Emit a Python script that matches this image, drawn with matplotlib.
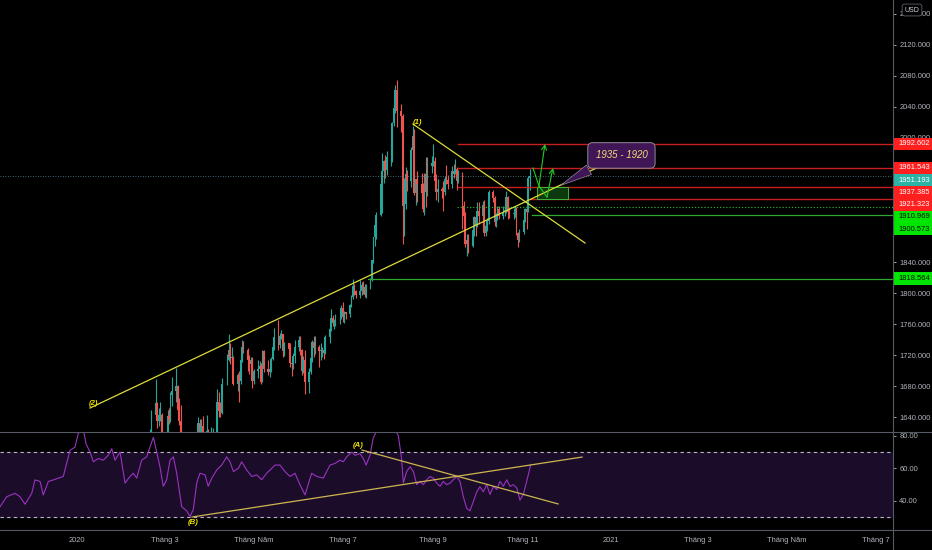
import numpy as np
import pandas as pd
import matplotlib
matplotlib.use("Agg")
import matplotlib.pyplot as plt
from matplotlib.patches import Rectangle
from matplotlib.lines import Line2D
import matplotlib.transforms as mtrans

plt.rcParams['font.family'] = ['Liberation Sans', 'DejaVu Sans']

# ---------------- data ----------------
BASE = pd.Timestamp("2020-01-01")
first_open = 1584.0
closes = [
    1581, 1601, 1611, 1619, 1643, 1658, 1635, 1643, 1643, 1585,
    1594, 1641, 1637, 1669, 1674, 1680, 1649, 1635, 1576, 1530, 1514, 1526, 1477, 1471, 1498, 1554, 1632, 1611, 1628, 1617, 1622, 1577,
    1591, 1613, 1620, 1660, 1648, 1645, 1683, 1713, 1727, 1716, 1716, 1683, 1694, 1686, 1714, 1730, 1726, 1713, 1708, 1714, 1686,
    1700, 1702, 1706, 1685, 1725, 1702, 1698, 1702, 1715, 1730, 1743, 1733, 1745, 1747, 1725, 1735, 1728, 1710, 1708, 1719, 1730,
    1739, 1727, 1699, 1714, 1685, 1698, 1716, 1737, 1729, 1730, 1725, 1726, 1727, 1722, 1743, 1754, 1768, 1761, 1764, 1771, 1772, 1781,
    1769, 1775, 1773, 1784, 1795, 1809, 1803, 1798, 1802, 1810, 1808, 1797, 1810, 1817, 1842, 1872, 1888, 1901, 1941, 1958, 1970, 1959, 1975,
    1976, 2019, 2039, 2062, 2035, 2028, 1912, 1915, 1954, 1944, 1985, 2002, 1929, 1947, 1940, 1929, 1908, 1953, 1930, 1964, 1968,
    1970, 1944, 1930, 1934, 1932, 1930, 1947, 1946, 1940, 1957, 1954, 1960, 1944, 1950, 1912, 1900, 1863, 1868, 1861, 1881, 1898, 1886,
    1906, 1899, 1913, 1877, 1887, 1893, 1930, 1922, 1891, 1902, 1908, 1899, 1904, 1907, 1924, 1904, 1902, 1902, 1908, 1877, 1868, 1879,
    1894, 1909, 1904, 1948, 1951,
]
highs = [
    1586, 1603, 1612, 1624, 1649, 1689, 1660, 1651, 1660, 1645,
    1611, 1649, 1652, 1672, 1692, 1703, 1681, 1664, 1655, 1594, 1575, 1547, 1548, 1501, 1520, 1566, 1640, 1637, 1637, 1641, 1643, 1625,
    1592, 1627, 1626, 1676, 1672, 1660, 1690, 1721, 1747, 1735, 1730, 1719, 1697, 1699, 1717, 1739, 1738, 1729, 1720, 1718, 1718,
    1702, 1714, 1712, 1710, 1727, 1727, 1714, 1707, 1717, 1736, 1755, 1765, 1748, 1752, 1747, 1737, 1735, 1735, 1713, 1723, 1740,
    1745, 1745, 1728, 1719, 1727, 1703, 1718, 1739, 1745, 1744, 1733, 1736, 1730, 1736, 1746, 1758, 1779, 1772, 1767, 1773, 1775, 1785,
    1789, 1777, 1776, 1786, 1797, 1818, 1812, 1804, 1817, 1814, 1815, 1812, 1812, 1820, 1843, 1872, 1895, 1905, 1944, 1981, 1972, 1978, 1983,
    1993, 2020, 2055, 2069, 2075, 2044, 2031, 1949, 1962, 1959, 1989, 2015, 2012, 1947, 1957, 1955, 1942, 1955, 1975, 1976, 1977,
    1992, 1975, 1953, 1947, 1937, 1944, 1951, 1965, 1952, 1964, 1966, 1973, 1962, 1959, 1956, 1919, 1904, 1876, 1876, 1882, 1900, 1900,
    1917, 1918, 1919, 1920, 1890, 1897, 1933, 1933, 1925, 1903, 1912, 1912, 1912, 1913, 1931, 1925, 1911, 1910, 1912, 1911, 1879, 1883,
    1896, 1910, 1939, 1951, 1960,
]
lows = [
    1575, 1578, 1598, 1604, 1619, 1636, 1626, 1628, 1635, 1563,
    1570, 1576, 1631, 1634, 1654, 1659, 1646, 1630, 1562, 1518, 1451, 1481, 1472, 1461, 1464, 1482, 1549, 1594, 1593, 1610, 1605, 1566,
    1568, 1588, 1609, 1615, 1640, 1640, 1644, 1681, 1712, 1708, 1698, 1681, 1673, 1660, 1682, 1711, 1722, 1700, 1695, 1701, 1677,
    1683, 1690, 1698, 1683, 1685, 1698, 1694, 1692, 1698, 1713, 1726, 1726, 1729, 1741, 1717, 1719, 1723, 1705, 1693, 1702, 1710,
    1725, 1720, 1694, 1697, 1670, 1671, 1696, 1711, 1718, 1721, 1705, 1714, 1718, 1715, 1721, 1736, 1751, 1758, 1753, 1758, 1760, 1766,
    1762, 1761, 1767, 1769, 1782, 1792, 1797, 1793, 1794, 1798, 1799, 1795, 1794, 1805, 1815, 1839, 1861, 1870, 1899, 1903, 1942, 1949, 1952,
    1964, 1969, 2015, 2032, 2014, 2008, 1863, 1874, 1908, 1932, 1937, 1978, 1927, 1913, 1917, 1922, 1904, 1901, 1911, 1925, 1955,
    1964, 1936, 1920, 1917, 1922, 1906, 1926, 1941, 1934, 1936, 1949, 1953, 1933, 1942, 1882, 1892, 1860, 1848, 1851, 1860, 1874, 1873,
    1885, 1889, 1896, 1874, 1873, 1880, 1889, 1917, 1887, 1885, 1894, 1896, 1895, 1899, 1903, 1895, 1897, 1895, 1898, 1875, 1860, 1866,
    1876, 1892, 1882, 1904, 1933,
]
trade_dates = pd.bdate_range("2020-02-17", "2020-11-06")
trade_dates = trade_dates[trade_dates != pd.Timestamp("2020-04-10")]

# RSI(14) readings: days since 2020-01-01 and values
rsi_days = [-52.7, -48.2, -42.5, -39.0, -35.6, -31.0, -28.8, -25.3, -23.1, -19.6,
            -16.2, -12.8, -9.4, -7.1, -4.8, -1.4, 0.9, 4.3, 6.2, 8.9,
            11.2, 14.6, 18.0, 21.4, 23.8, 26.0, 29.5, 32.9, 36.3, 38.6,
            40.9, 44.3, 47.7, 52.3, 54.6, 56.8, 59.1, 61.4, 63.7, 66.0,
            68.3, 71.7, 75.1, 77.4, 79.7, 82.0, 84.2, 87.7, 89.9, 92.3,
            95.7, 99.1, 102.5, 104.8, 107.1, 110.5, 112.8, 116.2, 119.7, 123.1,
            126.5, 129.9, 133.4, 135.6,
            139.0, 142.5, 145.9, 149.3, 152.7, 156.2, 160.7, 164.2, 168.7, 173.3,
            176.7, 180.1, 182.4, 184.7, 188.2, 190.4, 193.8, 196.1, 198.0, 200.7,
            202.9, 205.3, 208.0, 211.0, 214.0, 217.0, 220.1, 222.3, 223.5, 225.8,
            228.1, 230.4, 232.7, 234.9, 237.2, 239.5, 241.8, 244.1, 246.4, 248.6,
            250.9, 253.2, 255.5, 257.7, 260.1, 262.3, 264.6, 266.9, 269.2, 271.4,
            273.8, 276.0, 278.3, 280.6, 282.9, 285.2, 287.5, 289.7, 292.0, 294.3,
            296.6, 298.8, 301.2, 303.4, 305.7, 308.0, 310.7]
rsi_values = [36.5, 42.6, 44.7, 42.6, 38, 44.7, 52.9, 52, 43.7, 52,
              52.9, 54, 55, 63, 71, 73, 81.4, 84, 75, 70,
              64, 66, 65, 68, 72, 65, 70, 51, 55, 57,
              54, 65, 67, 79, 70, 61, 49, 53, 65, 67,
              57, 36.5, 34, 30.4, 35, 51, 57, 56, 49, 54,
              59, 62, 67, 64, 58, 60, 64, 59, 55, 56,
              53, 57, 60, 62,
              62, 58, 55, 57, 50, 43.7, 57, 55, 54, 62,
              63, 65, 64, 67, 70, 68, 69, 66, 62, 68,
              78.6, 83, 86, 88, 87, 85, 80, 66, 51, 58,
              61, 58, 50, 52, 50, 53, 55, 54, 51, 49,
              52, 50, 51, 53, 55, 52, 42.6, 35.5, 34, 39.5,
              45.6, 48.7, 45.6, 50, 44, 49, 47, 52, 49, 53,
              49, 50, 48, 40.5, 44, 52, 62]

red_levels = [1992.602, 1961.543, 1937.385, 1921.323]
red_starts = [261.0, 261.0, 261.0, 310.5]
green_levels = [1910.969, 1900.573, 1818.564]
green_starts = [260.3, 311.4, 199.3]
green_styles = ['dotted', 'solid', 'solid']
last_price = 1951.193

trend_up_days, trend_up_prices = [8.9, 363.0], [1651.6, 1967.7]
trend_dn_days, trend_dn_prices = [230.1, 348.0], [2018.0, 1864.5]
rsi_up_days, rsi_up_vals = [78.8, 345.9], [30.2, 66.9]
rsi_dn_days, rsi_dn_vals = [195.2, 329.5], [71.2, 38.2]

zone_days = [314.9, 336.5]
zone_prices = [1921.323, 1937.385]
path1_days, path1_prices = [312.3, 316.4, 320.5], [1961.3, 1938.1, 1992.3]
path2_days, path2_prices = [316.4, 321.9, 326.0], [1938.1, 1923.9, 1961.3]
callout_text = "1935 - 1920"
callout_center = (372.9, 1977.5)
callout_tip = (329.7, 1937.2)

xtick_dates = ["2020-01-01", "2020-03-01", "2020-05-01", "2020-07-01", "2020-09-01",
               "2020-11-01", "2021-01-01", "2021-03-01", "2021-05-01", "2021-07-01"]
xtick_labels = ["2020", "Tháng 3", "Tháng Năm", "Tháng 7", "Tháng 9",
                "Tháng 11", "2021", "Tháng 3", "Tháng Năm", "Tháng 7"]
price_ticks = [1640, 1680, 1720, 1760, 1800, 1840, 2000, 2040, 2080, 2120, 2160]
rsi_ticks = [40, 60, 80]

# ---------------- figure ----------------
W, H = 932, 550
PX_R = 893
fig = plt.figure(figsize=(W / 100, H / 100), dpi=100, facecolor='black')
ax = fig.add_axes([0, 118 / H, PX_R / W, 432 / H], facecolor='black')
axr = fig.add_axes([0, 20 / H, PX_R / W, 98 / H], facecolor='black')

XMIN, XMAX = -52.74, 558.9
P_LO, P_HI = 1620.65, 2178.06
for a in (ax, axr):
    a.set_xlim(XMIN, XMAX)
    for s in a.spines.values():
        s.set_visible(False)
ax.set_ylim(P_LO, P_HI)
axr.set_ylim(22.24, 82.25)

TXT = '#b2b5be'
FS = 5.4
ax.tick_params(axis='x', bottom=False, labelbottom=False)
ax.yaxis.tick_right()
ax.set_yticks(price_ticks)
ax.set_yticklabels([f"{v:.3f}" for v in price_ticks])
ax.tick_params(axis='y', colors=TXT, labelsize=FS, length=2.5, width=0.6, pad=2)

axr.yaxis.tick_right()
axr.set_yticks(rsi_ticks)
axr.set_yticklabels([f"{v:.2f}" for v in rsi_ticks])
axr.tick_params(axis='y', colors=TXT, labelsize=FS, length=2.5, width=0.6, pad=2)
xt = [(pd.Timestamp(d) - BASE).days for d in xtick_dates]
axr.set_xticks(xt)
axr.set_xticklabels(xtick_labels)
axr.tick_params(axis='x', colors=TXT, labelsize=FS, length=0, pad=4.9)

# ---------------- candles ----------------
days = np.array([(d - BASE).days for d in trade_dates], dtype=float)
c = np.array(closes, float)
o = np.array([first_open] + closes[:-1], float)
hi = np.array(highs, float)
lo = np.array(lows, float)
UP, DN = '#26a69a', '#ef5350'
cols = [UP if cc >= oo else DN for cc, oo in zip(c, o)]
ax.vlines(days, lo, hi, colors=cols, linewidth=0.8, zorder=2)
ax.bar(days, np.maximum(np.abs(c - o), 1.0), bottom=np.minimum(o, c), width=1.2,
       color=cols, linewidth=0, zorder=2)

# ---------------- horizontal levels ----------------
ax.plot([XMIN, XMAX], [last_price] * 2, color='#4f8d98', lw=0.6, ls=(0, (1, 2)), zorder=3)
for lv, st in zip(red_levels, red_starts):
    ax.plot([st, XMAX], [lv, lv], color='#c81e1e', lw=1.0, zorder=3)
for lv, st, sty in zip(green_levels, green_starts, green_styles):
    ls = (0, (1, 1.5)) if sty == 'dotted' else '-'
    ax.plot([st, XMAX], [lv, lv], color='#2fa82f', lw=0.9, ls=ls, zorder=3)

# zone box
ax.add_patch(Rectangle((zone_days[0], zone_prices[0]), zone_days[1] - zone_days[0],
                       zone_prices[1] - zone_prices[0], facecolor='#0c3a0e',
                       edgecolor='#3cb43c', lw=0.7, zorder=4))

# trend lines
YEL = '#dcdc3a'
ax.plot(trend_up_days, trend_up_prices, color=YEL, lw=0.9, zorder=5)
ax.plot(trend_dn_days, trend_dn_prices, color=YEL, lw=0.9, zorder=5)

# green projection arrows
GRN = '#22cc22'
for pd_, pp in ((path1_days, path1_prices), (path2_days, path2_prices)):
    ax.plot(pd_[:2], pp[:2], color=GRN, lw=0.8, zorder=6)
    ax.annotate('', xy=(pd_[2], pp[2]), xytext=(pd_[1], pp[1]),
                arrowprops=dict(arrowstyle='->,head_length=0.35,head_width=0.18',
                                color=GRN, lw=0.8, shrinkA=0, shrinkB=0,
                                mutation_scale=10), zorder=6)

# callout
ax.annotate(callout_text, xy=callout_tip, xytext=callout_center, textcoords='data',
            color='#f3dc7a', fontsize=7.0, style='italic', ha='center', va='center',
            bbox=dict(boxstyle='round,pad=0.8,rounding_size=0.5', fc='#401656',
                      ec='#8c8c94', lw=0.7),
            arrowprops=dict(arrowstyle='wedge,tail_width=1.1,shrink_factor=0.5',
                            fc='#401656', ec='#8c8c94', lw=0.5, relpos=(0.2, 0.0)),
            zorder=7)

LBL = '#f2e400'
ax.annotate('(1)', xy=(trend_dn_days[0], trend_dn_prices[0]), xytext=(3.6, 1.4),
            textcoords='offset points', color=LBL, fontsize=5.6, style='italic',
            fontweight='bold', ha='center', va='center', zorder=8)
ax.annotate('(2)', xy=(trend_up_days[0], trend_up_prices[0]), xytext=(2.5, 3.2),
            textcoords='offset points', color=LBL, fontsize=5.6, style='italic',
            fontweight='bold', ha='center', va='center', zorder=8)

# right-side price labels (stacked)
trans = mtrans.blended_transform_factory(ax.transAxes, ax.transData)
ppu = 432 / (P_HI - P_LO)
h_units = 12.25 / ppu
label_w = (W - PX_R) / PX_R
items = [(v, '#ff1f1f', 'white') for v in red_levels]
items += [(last_price, '#2bb3a6', 'white')]
items += [(v, '#00e600', '#0a0a0a') for v in green_levels]
items.sort(key=lambda t: -t[0])
prev = None
for v, fc, tc in items:
    pos = v if (prev is None or prev - v >= h_units) else prev - h_units
    prev = pos
    ax.add_patch(Rectangle((1.0, pos - h_units / 2), label_w, h_units, transform=trans,
                           facecolor=fc, edgecolor='none', clip_on=False, zorder=10))
    ax.text(1.0 + 5 / PX_R, pos, f"{v:.3f}", transform=trans, color=tc, fontsize=FS,
            va='center', ha='left', clip_on=False, zorder=11)

# ---------------- RSI panel ----------------
axr.axhspan(30, 70, color='#1b0d29', zorder=0)
for lv in (30, 70):
    axr.axhline(lv, color='#b8b8c2', lw=0.8, ls=(0, (3, 3)), zorder=1)
axr.plot(rsi_days, rsi_values, color='#9a32c2', lw=0.8, zorder=2)
RYEL = '#cdb552'
axr.plot(rsi_up_days, rsi_up_vals, color=RYEL, lw=0.9, zorder=3)
axr.plot(rsi_dn_days, rsi_dn_vals, color=RYEL, lw=0.9, zorder=3)
axr.annotate('(A)', xy=(rsi_dn_days[0], rsi_dn_vals[0]), xytext=(-2.5, 3.2),
             textcoords='offset points', color=LBL, fontsize=5.6, style='italic',
             fontweight='bold', ha='center', va='center', zorder=8)
axr.annotate('(B)', xy=(rsi_up_days[0], rsi_up_vals[0]), xytext=(0.7, -3.6),
             textcoords='offset points', color=LBL, fontsize=5.6, style='italic',
             fontweight='bold', ha='center', va='center', zorder=8, annotation_clip=False)

# separators
SEP = '#555a66'
fig.add_artist(Line2D([PX_R / W] * 2, [0, 1], transform=fig.transFigure, color=SEP, lw=0.8))
for yy in (118 / H, 20 / H):
    fig.add_artist(Line2D([0, 1], [yy, yy], transform=fig.transFigure, color=SEP, lw=0.8))

fig.text(912 / W, 1 - 10 / H, "USD", color='#d1d4dc', fontsize=5, ha='center', va='center',
         bbox=dict(boxstyle='round,pad=0.35', fc='black', ec='#5d606b', lw=0.6))

fig.savefig("out.png", dpi=100, facecolor='black')
